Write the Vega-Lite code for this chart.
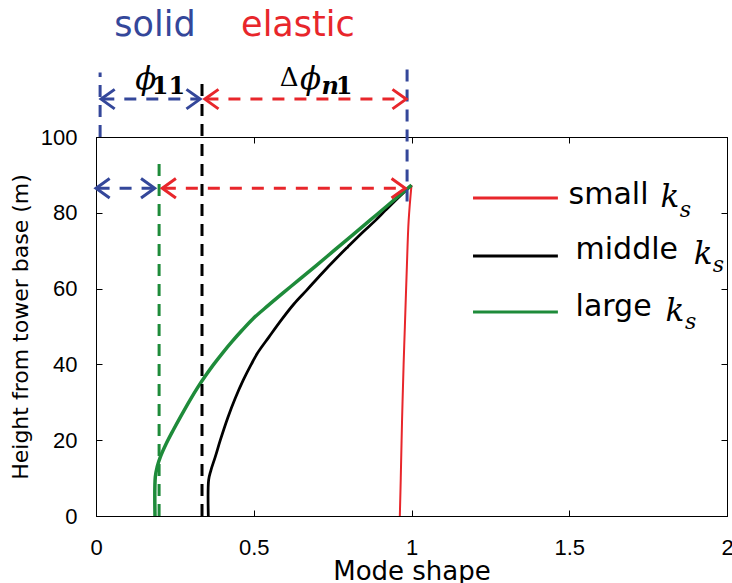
{
  "$schema": "https://vega.github.io/schema/vega-lite/v6.json",
  "autosize": {"type": "none"},
  "padding": {"left": 96, "top": 137, "right": 5, "bottom": 67},
  "width": 631,
  "height": 379,
  "background": "white",
  "config": {
    "view": {"stroke": "black", "strokeWidth": 1},
    "axis": {"grid": false, "domainColor": "black", "tickColor": "black", "labelColor": "black", "titleColor": "black", "labelFont": "Liberation Sans", "labelFontSize": 22, "titleFont": "DejaVu Sans", "titleFontWeight": "normal", "tickSize": -6}
  },
  "datasets": {
    "curves": [
      {"series": "small", "x": 0.963, "h": 0},
      {"series": "small", "x": 0.966, "h": 10},
      {"series": "small", "x": 0.970, "h": 25},
      {"series": "small", "x": 0.975, "h": 40},
      {"series": "small", "x": 0.979, "h": 50},
      {"series": "small", "x": 0.985, "h": 65},
      {"series": "small", "x": 0.991, "h": 78},
      {"series": "small", "x": 1.0, "h": 87.3},
      {"series": "middle", "x": 0.356, "h": 0},
      {"series": "middle", "x": 0.357, "h": 9.5},
      {"series": "middle", "x": 0.364, "h": 12},
      {"series": "middle", "x": 0.378, "h": 15.6},
      {"series": "middle", "x": 0.394, "h": 20},
      {"series": "middle", "x": 0.418, "h": 26},
      {"series": "middle", "x": 0.441, "h": 31},
      {"series": "middle", "x": 0.467, "h": 35.9},
      {"series": "middle", "x": 0.492, "h": 40},
      {"series": "middle", "x": 0.512, "h": 43},
      {"series": "middle", "x": 0.548, "h": 47.2},
      {"series": "middle", "x": 0.59, "h": 52},
      {"series": "middle", "x": 0.628, "h": 56},
      {"series": "middle", "x": 0.668, "h": 59.6},
      {"series": "middle", "x": 0.716, "h": 64},
      {"series": "middle", "x": 0.762, "h": 68},
      {"series": "middle", "x": 0.798, "h": 71},
      {"series": "middle", "x": 0.847, "h": 75},
      {"series": "middle", "x": 0.886, "h": 78},
      {"series": "middle", "x": 0.918, "h": 80.7},
      {"series": "middle", "x": 0.958, "h": 84},
      {"series": "middle", "x": 1.0, "h": 87.3},
      {"series": "large", "x": 0.187, "h": 0},
      {"series": "large", "x": 0.188, "h": 10.3},
      {"series": "large", "x": 0.194, "h": 13},
      {"series": "large", "x": 0.204, "h": 15.6},
      {"series": "large", "x": 0.222, "h": 19},
      {"series": "large", "x": 0.245, "h": 22.7},
      {"series": "large", "x": 0.27, "h": 26.5},
      {"series": "large", "x": 0.298, "h": 30.6},
      {"series": "large", "x": 0.323, "h": 34},
      {"series": "large", "x": 0.347, "h": 37},
      {"series": "large", "x": 0.373, "h": 40},
      {"series": "large", "x": 0.401, "h": 43},
      {"series": "large", "x": 0.431, "h": 46},
      {"series": "large", "x": 0.463, "h": 49},
      {"series": "large", "x": 0.497, "h": 52},
      {"series": "large", "x": 0.545, "h": 55.5},
      {"series": "large", "x": 0.595, "h": 59},
      {"series": "large", "x": 0.643, "h": 62.3},
      {"series": "large", "x": 0.697, "h": 66},
      {"series": "large", "x": 0.754, "h": 70},
      {"series": "large", "x": 0.811, "h": 74},
      {"series": "large", "x": 0.868, "h": 78},
      {"series": "large", "x": 0.925, "h": 82},
      {"series": "large", "x": 0.967, "h": 85},
      {"series": "large", "x": 1.0, "h": 87.3}
    ],
    "vlines": [
      {"grp": "solid", "x": 0.013, "h1": 100, "h2": 117},
      {"grp": "middle", "x": 0.336, "h1": 0, "h2": 116},
      {"grp": "large", "x": 0.2, "h1": 0, "h2": 94},
      {"grp": "solid", "x": 0.986, "h1": 83, "h2": 118}
    ],
    "hlines": [
      {"grp": "solid", "h": 110, "x1": 0.02, "x2": 0.325},
      {"grp": "elastic", "h": 110, "x1": 0.35, "x2": 0.975},
      {"grp": "solid", "h": 86.5, "x1": 0.005, "x2": 0.18},
      {"grp": "elastic", "h": 86.5, "x1": 0.215, "x2": 0.975}
    ],
    "heads": [
      {"grp": "solid", "dir": "left", "x": 0.016, "h": 110},
      {"grp": "solid", "dir": "right", "x": 0.33, "h": 110},
      {"grp": "elastic", "dir": "left", "x": 0.345, "h": 110},
      {"grp": "elastic", "dir": "right", "x": 0.983, "h": 110},
      {"grp": "solid", "dir": "left", "x": 0.0, "h": 86.5},
      {"grp": "solid", "dir": "right", "x": 0.186, "h": 86.5},
      {"grp": "elastic", "dir": "left", "x": 0.21, "h": 86.5},
      {"grp": "elastic", "dir": "right", "x": 0.98, "h": 86.5}
    ],
    "legend": [
      {"series": "small", "x1": 1.195, "x2": 1.464, "h": 83.9},
      {"series": "middle", "x1": 1.195, "x2": 1.464, "h": 68.6},
      {"series": "large", "x1": 1.195, "x2": 1.464, "h": 53.8}
    ],
    "labels": [
      {"role": "head", "text": "solid", "grp": "solid", "x": 0.187, "h": 129.5},
      {"role": "head", "text": "elastic", "grp": "elastic", "x": 0.64, "h": 129.5},
      {"role": "leg", "text": "small", "grp": "middle", "x": 1.498, "h": 84.7},
      {"role": "leg", "text": "middle", "grp": "middle", "x": 1.52, "h": 70.2},
      {"role": "leg", "text": "large", "grp": "middle", "x": 1.52, "h": 55.1},
      {"role": "ital", "text": "ϕ", "grp": "middle", "x": 0.158, "h": 115},
      {"role": "ital", "text": "ϕ", "grp": "middle", "x": 0.68, "h": 115},
      {"role": "ital", "text": "k", "grp": "middle", "x": 1.819, "h": 83.9},
      {"role": "ital", "text": "k", "grp": "middle", "x": 1.924, "h": 68.9},
      {"role": "ital", "text": "k", "grp": "middle", "x": 1.835, "h": 53.8},
      {"role": "sub", "text": "s", "grp": "middle", "x": 1.868, "h": 80.7},
      {"role": "sub", "text": "s", "grp": "middle", "x": 1.973, "h": 66.2},
      {"role": "sub", "text": "s", "grp": "middle", "x": 1.885, "h": 51.2},
      {"role": "delta", "text": "Δ", "grp": "middle", "x": 0.612, "h": 115.5},
      {"role": "bold", "text": "11", "grp": "middle", "x": 0.23, "h": 113.2},
      {"role": "bold", "text": "1", "grp": "middle", "x": 0.786, "h": 113.2},
      {"role": "boldital", "text": "n", "grp": "middle", "x": 0.742, "h": 113.2}
    ]
  },
  "layer": [
    {
      "data": {"name": "curves"},
      "mark": {"type": "line", "interpolate": "catmull-rom"},
      "encoding": {
        "x": {"field": "x", "type": "quantitative", "scale": {"domain": [0, 2], "nice": false, "zero": false},
          "axis": {"orient": "bottom", "values": [0, 0.5, 1, 1.5, 2], "format": "~g", "labelPadding": 27, "title": "Mode shape", "titleFontSize": 26, "titlePadding": 0, "labelFlush": false}},
        "y": {"field": "h", "type": "quantitative", "scale": {"domain": [0, 100], "nice": false},
          "axis": {"orient": "left", "values": [0, 20, 40, 60, 80, 100], "labelPadding": 25, "title": "Height from tower base (m)", "titleFontSize": 22, "titlePadding": 8}},
        "order": {"field": "h", "type": "quantitative"},
        "detail": {"field": "series"},
        "color": {"field": "series", "type": "nominal", "legend": null,
          "scale": {"domain": ["small", "middle", "large", "solid", "elastic"], "range": ["#e8262b", "#000000", "#1e8b3a", "#34479a", "#e8262b"]}},
        "strokeWidth": {"field": "series", "type": "nominal", "legend": null,
          "scale": {"domain": ["small", "middle", "large"], "range": [2, 3.5, 4]}}
      }
    },
    {
      "data": {"name": "vlines"},
      "mark": {"type": "rule", "strokeWidth": 3, "strokeDash": [12, 8]},
      "encoding": {
        "x": {"field": "x", "type": "quantitative", "axis": null},
        "y": {"field": "h1", "type": "quantitative", "axis": null},
        "y2": {"field": "h2"},
        "color": {"field": "grp", "type": "nominal", "legend": null}
      }
    },
    {
      "data": {"name": "hlines"},
      "mark": {"type": "rule", "strokeWidth": 3, "strokeDash": [12, 10]},
      "encoding": {
        "x": {"field": "x1", "type": "quantitative", "axis": null},
        "x2": {"field": "x2"},
        "y": {"field": "h", "type": "quantitative", "axis": null},
        "color": {"field": "grp", "type": "nominal", "legend": null}
      }
    },
    {
      "data": {"name": "heads"},
      "mark": {"type": "point", "filled": false, "strokeWidth": 3, "size": 380, "opacity": 1},
      "encoding": {
        "x": {"field": "x", "type": "quantitative", "axis": null},
        "y": {"field": "h", "type": "quantitative", "axis": null},
        "shape": {"field": "dir", "type": "nominal", "legend": null,
          "scale": {"domain": ["left", "right"], "range": ["M1.4,-1L0,0L1.4,1", "M-1.4,-1L0,0L-1.4,1"]}},
        "color": {"field": "grp", "type": "nominal", "legend": null}
      }
    },
    {
      "data": {"name": "legend"},
      "mark": {"type": "rule", "strokeWidth": 3},
      "encoding": {
        "x": {"field": "x1", "type": "quantitative", "axis": {"orient": "top", "values": [0, 0.5, 1, 1.5, 2], "labels": false, "title": null}},
        "x2": {"field": "x2"},
        "y": {"field": "h", "type": "quantitative", "axis": {"orient": "right", "values": [0, 20, 40, 60, 80, 100], "labels": false, "title": null}},
        "color": {"field": "series", "type": "nominal", "legend": null}
      }
    },
    {
      "data": {"name": "labels"},
      "transform": [{"filter": "datum.role === 'head'"}],
      "mark": {"type": "text", "font": "DejaVu Sans", "fontSize": 35, "align": "center", "baseline": "middle"},
      "encoding": {
        "x": {"field": "x", "type": "quantitative", "axis": null},
        "y": {"field": "h", "type": "quantitative", "axis": null},
        "text": {"field": "text"},
        "color": {"field": "grp", "type": "nominal", "legend": null}
      }
    },
    {
      "data": {"name": "labels"},
      "transform": [{"filter": "datum.role === 'leg'"}],
      "mark": {"type": "text", "font": "DejaVu Sans", "fontSize": 30, "align": "left", "baseline": "middle"},
      "encoding": {
        "x": {"field": "x", "type": "quantitative", "axis": null},
        "y": {"field": "h", "type": "quantitative", "axis": null},
        "text": {"field": "text"},
        "color": {"field": "grp", "type": "nominal", "legend": null}
      }
    },
    {
      "data": {"name": "labels"},
      "transform": [{"filter": "datum.role === 'ital'"}],
      "mark": {"type": "text", "font": "DejaVu Serif", "fontStyle": "italic", "fontSize": 31, "align": "center", "baseline": "middle"},
      "encoding": {
        "x": {"field": "x", "type": "quantitative", "axis": null},
        "y": {"field": "h", "type": "quantitative", "axis": null},
        "text": {"field": "text"},
        "color": {"field": "grp", "type": "nominal", "legend": null}
      }
    },
    {
      "data": {"name": "labels"},
      "transform": [{"filter": "datum.role === 'sub'"}],
      "mark": {"type": "text", "font": "DejaVu Serif", "fontStyle": "italic", "fontSize": 22, "align": "center", "baseline": "middle"},
      "encoding": {
        "x": {"field": "x", "type": "quantitative", "axis": null},
        "y": {"field": "h", "type": "quantitative", "axis": null},
        "text": {"field": "text"},
        "color": {"field": "grp", "type": "nominal", "legend": null}
      }
    },
    {
      "data": {"name": "labels"},
      "transform": [{"filter": "datum.role === 'delta'"}],
      "mark": {"type": "text", "font": "DejaVu Serif", "fontSize": 26, "align": "center", "baseline": "middle"},
      "encoding": {
        "x": {"field": "x", "type": "quantitative", "axis": null},
        "y": {"field": "h", "type": "quantitative", "axis": null},
        "text": {"field": "text"},
        "color": {"field": "grp", "type": "nominal", "legend": null}
      }
    },
    {
      "data": {"name": "labels"},
      "transform": [{"filter": "datum.role === 'bold'"}],
      "mark": {"type": "text", "font": "DejaVu Serif", "fontWeight": "bold", "fontSize": 24, "align": "center", "baseline": "middle"},
      "encoding": {
        "x": {"field": "x", "type": "quantitative", "axis": null},
        "y": {"field": "h", "type": "quantitative", "axis": null},
        "text": {"field": "text"},
        "color": {"field": "grp", "type": "nominal", "legend": null}
      }
    },
    {
      "data": {"name": "labels"},
      "transform": [{"filter": "datum.role === 'boldital'"}],
      "mark": {"type": "text", "font": "DejaVu Serif", "fontWeight": "bold", "fontStyle": "italic", "fontSize": 24, "align": "center", "baseline": "middle"},
      "encoding": {
        "x": {"field": "x", "type": "quantitative", "axis": null},
        "y": {"field": "h", "type": "quantitative", "axis": null},
        "text": {"field": "text"},
        "color": {"field": "grp", "type": "nominal", "legend": null}
      }
    }
  ],
  "resolve": {"axis": {"x": "independent", "y": "independent"}}
}
